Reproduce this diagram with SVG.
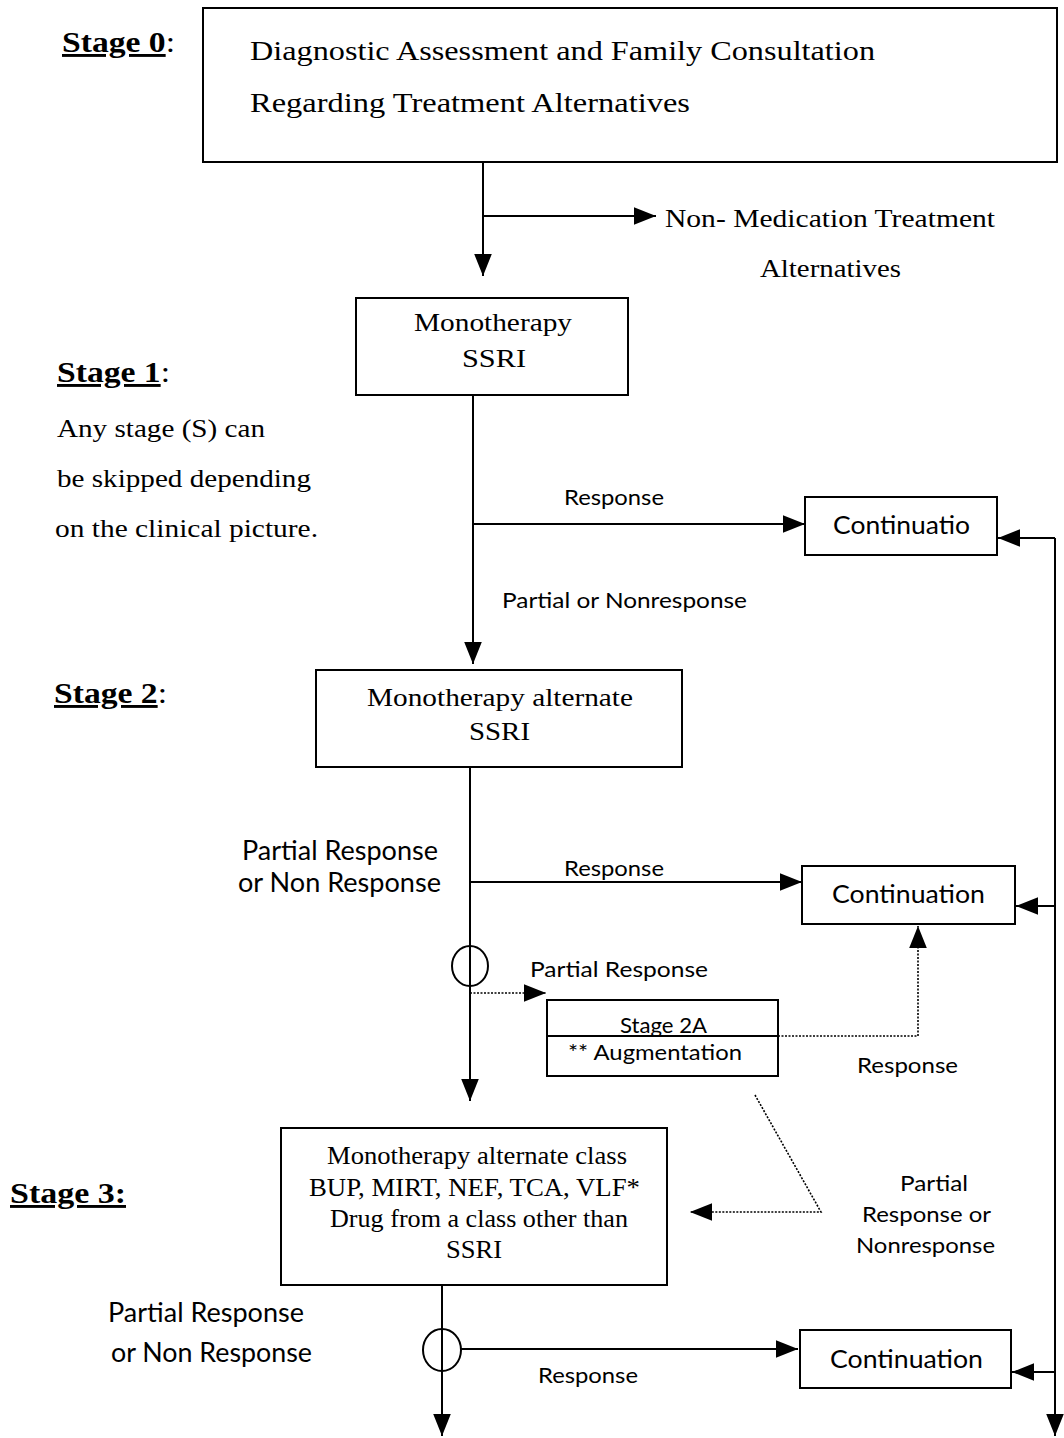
<svg xmlns="http://www.w3.org/2000/svg" width="1064" height="1438" viewBox="0 0 1064 1438">
<style>
.box{fill:#fff;stroke:#000;stroke-width:2}
.ln{fill:none;stroke:#000;stroke-width:2}
.dot{fill:none;stroke:#000;stroke-width:1.6;stroke-dasharray:2 1.5}
.s{font-family:"Liberation Serif","Times New Roman",serif;fill:#000}
.o{font-family:Lato,"Liberation Sans",sans-serif;fill:#000}
.st{font-family:"Liberation Serif","Times New Roman",serif;font-weight:bold;font-size:29px;fill:#000}
.u{text-decoration:underline}
</style>
<defs>
<marker id="ahb" viewBox="0 0 10 10" refX="10" refY="5" markerWidth="22" markerHeight="22" markerUnits="userSpaceOnUse" orient="auto"><path d="M0,1 L10,5 L0,9 z" fill="#000"/></marker>
</defs>
<rect width="1064" height="1438" fill="#fff"/>

<g id="labels">
<text class="st" x="62" y="52" textLength="113" lengthAdjust="spacingAndGlyphs"><tspan class="u">Stage 0</tspan><tspan font-weight="normal">:</tspan></text>
<text class="st" x="57" y="382" textLength="113" lengthAdjust="spacingAndGlyphs"><tspan class="u">Stage 1</tspan><tspan font-weight="normal">:</tspan></text>
<text class="s" font-size="25" x="57" y="437" textLength="208" lengthAdjust="spacingAndGlyphs">Any stage (S) can</text>
<text class="s" font-size="25" x="57" y="487" textLength="254" lengthAdjust="spacingAndGlyphs">be skipped depending</text>
<text class="s" font-size="25" x="55" y="537" textLength="263" lengthAdjust="spacingAndGlyphs">on the clinical picture.</text>
<text class="st" x="54" y="703" textLength="113" lengthAdjust="spacingAndGlyphs"><tspan class="u">Stage 2</tspan><tspan font-weight="normal">:</tspan></text>
<text class="st" x="10" y="1203" textLength="116" lengthAdjust="spacingAndGlyphs"><tspan class="u">Stage 3:</tspan></text>
</g>

<g id="connectors">
<line class="ln" x1="483" y1="162" x2="483" y2="276" marker-end="url(#ahb)"/>
<line class="ln" x1="483" y1="216" x2="656" y2="216" marker-end="url(#ahb)"/>
<line class="ln" x1="473" y1="395" x2="473" y2="664" marker-end="url(#ahb)"/>
<line class="ln" x1="473" y1="524" x2="805" y2="524" marker-end="url(#ahb)"/>
<line class="ln" x1="470" y1="767" x2="470" y2="1101" marker-end="url(#ahb)"/>
<line class="ln" x1="470" y1="882" x2="802" y2="882" marker-end="url(#ahb)"/>
<ellipse class="ln" cx="470" cy="966" rx="18" ry="20"/>
<line class="dot" x1="470" y1="993" x2="546" y2="993" marker-end="url(#ahb)"/>
<polyline class="dot" points="778,1036 918,1036 918,926" marker-end="url(#ahb)"/>
<polyline class="dot" points="755,1095 821,1212 690,1212" marker-end="url(#ahb)"/>
<line class="ln" x1="442" y1="1285" x2="442" y2="1436" marker-end="url(#ahb)"/>
<ellipse class="ln" cx="442" cy="1350" rx="19" ry="21"/>
<line class="ln" x1="461" y1="1349" x2="798" y2="1349" marker-end="url(#ahb)"/>
<line class="ln" x1="1055" y1="538" x2="1055" y2="1436" marker-end="url(#ahb)"/>
<line class="ln" x1="1055" y1="538" x2="998" y2="538" marker-end="url(#ahb)"/>
<line class="ln" x1="1055" y1="906" x2="1016" y2="906" marker-end="url(#ahb)"/>
<line class="ln" x1="1055" y1="1372" x2="1012" y2="1372" marker-end="url(#ahb)"/>
<text class="s" font-size="26" x="665" y="227" textLength="330" lengthAdjust="spacingAndGlyphs">Non- Medication Treatment</text>
<text class="s" font-size="26" x="760" y="277" textLength="141" lengthAdjust="spacingAndGlyphs">Alternatives</text>
<text class="o" font-size="22" x="564" y="505" textLength="100" lengthAdjust="spacingAndGlyphs">Response</text>
<text class="o" font-size="22" x="502" y="608" textLength="245" lengthAdjust="spacingAndGlyphs">Partial or Nonresponse</text>
<text class="o" font-size="26" x="242" y="860" textLength="196" lengthAdjust="spacingAndGlyphs">Partial Response</text>
<text class="o" font-size="26" x="238" y="892" textLength="203" lengthAdjust="spacingAndGlyphs">or Non Response</text>
<text class="o" font-size="22" x="564" y="876" textLength="100" lengthAdjust="spacingAndGlyphs">Response</text>
<text class="o" font-size="22" x="530" y="977" textLength="178" lengthAdjust="spacingAndGlyphs">Partial Response</text>
<text class="o" font-size="22" x="857" y="1073" textLength="101" lengthAdjust="spacingAndGlyphs">Response</text>
<text class="o" font-size="22" x="900" y="1191" textLength="68" lengthAdjust="spacingAndGlyphs">Partial</text>
<text class="o" font-size="22" x="862" y="1222" textLength="129" lengthAdjust="spacingAndGlyphs">Response or</text>
<text class="o" font-size="22" x="856" y="1253" textLength="139" lengthAdjust="spacingAndGlyphs">Nonresponse</text>
<text class="o" font-size="26" x="108" y="1322" textLength="196" lengthAdjust="spacingAndGlyphs">Partial Response</text>
<text class="o" font-size="26" x="111" y="1362" textLength="201" lengthAdjust="spacingAndGlyphs">or Non Response</text>
<text class="o" font-size="22" x="538" y="1383" textLength="100" lengthAdjust="spacingAndGlyphs">Response</text>
</g>

<g id="n-stage0">
<rect class="box" x="203" y="8" width="854" height="154"/>
<text class="s" font-size="28" x="250" y="60" textLength="625" lengthAdjust="spacingAndGlyphs">Diagnostic Assessment and Family Consultation</text>
<text class="s" font-size="28" x="250" y="112" textLength="440" lengthAdjust="spacingAndGlyphs">Regarding Treatment Alternatives</text>
</g>
<g id="n-mono-ssri">
<rect class="box" x="356" y="298" width="272" height="97"/>
<text class="s" font-size="25" x="414" y="331" textLength="158" lengthAdjust="spacingAndGlyphs">Monotherapy</text>
<text class="s" font-size="25" x="462" y="367" textLength="64" lengthAdjust="spacingAndGlyphs">SSRI</text>
</g>
<g id="n-cont1">
<rect class="box" x="805" y="497" width="192" height="58"/>
<text class="o" font-size="25" x="833" y="534" textLength="137" lengthAdjust="spacingAndGlyphs">Continuatio</text>
</g>
<g id="n-mono-alt">
<rect class="box" x="316" y="670" width="366" height="97"/>
<text class="s" font-size="25" x="367" y="706" textLength="266" lengthAdjust="spacingAndGlyphs">Monotherapy alternate</text>
<text class="s" font-size="25" x="469" y="740" textLength="61" lengthAdjust="spacingAndGlyphs">SSRI</text>
</g>
<g id="n-cont2">
<rect class="box" x="802" y="866" width="213" height="58"/>
<text class="o" font-size="25" x="832" y="903" textLength="153" lengthAdjust="spacingAndGlyphs">Continuation</text>
</g>
<g id="n-stage2a">
<rect class="box" x="547" y="1000" width="231" height="76"/>
<line class="ln" x1="547" y1="1036" x2="778" y2="1036"/>
<text class="o" font-size="21" x="620" y="1033" textLength="87" lengthAdjust="spacingAndGlyphs">Stage 2A</text>
<text class="o" font-size="21" x="568" y="1060" textLength="174" lengthAdjust="spacingAndGlyphs">**  Augmentation</text>
</g>
<g id="n-mono-class">
<rect class="box" x="281" y="1128" width="386" height="157"/>
<text class="s" font-size="25" x="327" y="1164" textLength="300" lengthAdjust="spacingAndGlyphs">Monotherapy alternate class</text>
<text class="s" font-size="25" x="309" y="1196" textLength="331" lengthAdjust="spacingAndGlyphs">BUP, MIRT, NEF, TCA, VLF*</text>
<text class="s" font-size="25" x="330" y="1227" textLength="298" lengthAdjust="spacingAndGlyphs">Drug from a class other than</text>
<text class="s" font-size="25" x="446" y="1258" textLength="56" lengthAdjust="spacingAndGlyphs">SSRI</text>
</g>
<g id="n-cont3">
<rect class="box" x="800" y="1330" width="211" height="58"/>
<text class="o" font-size="25" x="830" y="1368" textLength="153" lengthAdjust="spacingAndGlyphs">Continuation</text>
</g>
</svg>
